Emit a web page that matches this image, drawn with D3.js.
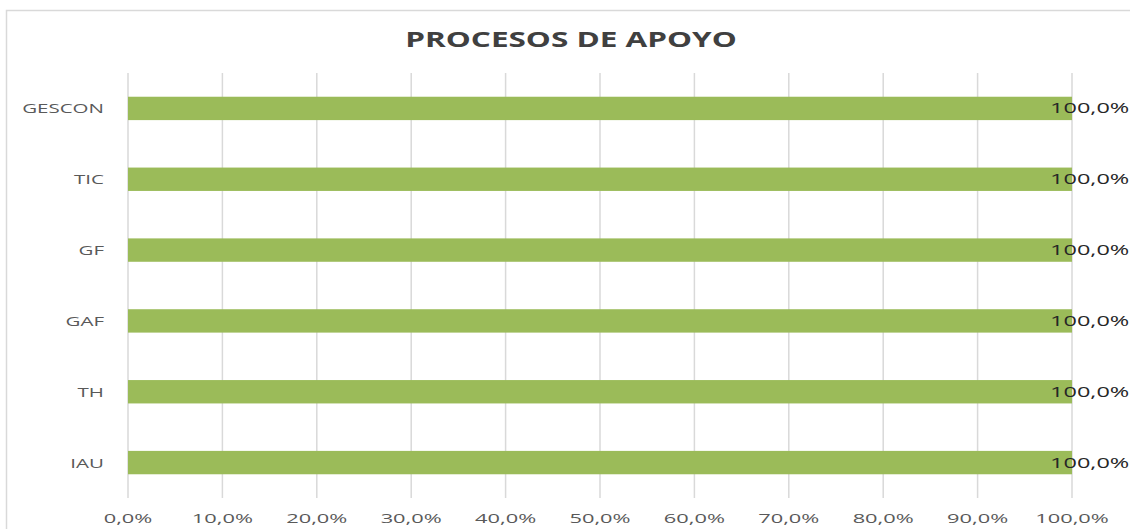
<!DOCTYPE html>
<html>
<head>
<meta charset="utf-8">
<script src="https://cdn.jsdelivr.net/npm/d3@7"></script>
<style>
  body { margin: 0; background: #fff; }
</style>
</head>
<body>
<svg id="chart"></svg>
<script>
var categories = ["GESCON", "TIC", "GF", "GAF", "TH", "IAU"];
var values = [1.0, 1.0, 1.0, 1.0, 1.0, 1.0];
var tickValues = [0, 0.1, 0.2, 0.3, 0.4, 0.5, 0.6, 0.7, 0.8, 0.9, 1.0];

var width = 1130, height = 529;
var margin = {top: 73, right: 58, bottom: 31, left: 128};

var svg = d3.select("#chart")
    .attr("width", width)
    .attr("height", height);

// the original picture is stretched sideways, so widen the text the same way
function stretch(sel, k) {
    sel.each(function () {
        var t = d3.select(this);
        var x = +t.attr("x"), y = +t.attr("y");
        t.attr("x", 0).attr("y", 0)
            .attr("transform", "translate(" + x + "," + y + ") scale(" + k + ",1)");
    });
}

// chart frame
svg.append("path")
    .attr("d", "M6.5," + height + "V10.5H" + width)
    .attr("fill", "none")
    .attr("stroke", "#d9d9d9")
    .attr("stroke-width", 1.5);

var fmt = function (d) { return d3.format(".1f")(d * 100).replace(".", ",") + "%"; };

var xScale = d3.scaleLinear()
    .domain([0, 1])
    .range([margin.left, width - margin.right]);

var yScale = d3.scaleBand()
    .domain(categories)
    .range([margin.top, height - margin.bottom])
    .paddingInner(0.67)
    .paddingOuter(0.335);

// gridlines
svg.append("g")
    .selectAll("line")
    .data(tickValues)
    .enter().append("line")
    .attr("x1", function (d) { return xScale(d); })
    .attr("x2", function (d) { return xScale(d); })
    .attr("y1", margin.top)
    .attr("y2", height - margin.bottom)
    .attr("stroke", "#d9d9d9")
    .attr("stroke-width", 1.5);

// x tick labels
svg.append("g")
    .selectAll("text")
    .data(tickValues)
    .enter().append("text")
    .attr("x", function (d) { return xScale(d); })
    .attr("y", 523)
    .attr("text-anchor", "middle")
    .attr("font-family", "'Open Sans', sans-serif")
    .attr("font-size", "13px")
    .attr("fill", "#595959")
    .text(fmt)
    .call(stretch, 1.68);

// y category labels
svg.append("g")
    .selectAll("text")
    .data(categories)
    .enter().append("text")
    .attr("x", 104)
    .attr("y", function (d) { return yScale(d) + yScale.bandwidth() / 2 + 5; })
    .attr("text-anchor", "end")
    .attr("font-family", "'Open Sans', sans-serif")
    .attr("font-size", "13.5px")
    .attr("fill", "#595959")
    .text(function (d) { return d; })
    .call(stretch, 1.52);

// bars
svg.selectAll(".bar")
    .data(values)
    .enter().append("rect")
    .attr("class", "bar")
    .attr("x", xScale(0))
    .attr("y", function (d, i) { return yScale(categories[i]); })
    .attr("width", function (d) { return xScale(d) - xScale(0); })
    .attr("height", yScale.bandwidth())
    .attr("fill", "#9bbb59");

// data labels
svg.append("g")
    .selectAll("text")
    .data(values)
    .enter().append("text")
    .attr("x", function (d) { return xScale(d) - 22; })
    .attr("y", function (d, i) { return yScale(categories[i]) + yScale.bandwidth() / 2 + 5; })
    .attr("font-family", "'Open Sans', sans-serif")
    .attr("font-size", "14px")
    .attr("fill", "#262626")
    .text(fmt)
    .call(stretch, 1.68);

// title
svg.append("text")
    .attr("x", 571)
    .attr("y", 47)
    .attr("text-anchor", "middle")
    .attr("font-family", "'Open Sans', sans-serif")
    .attr("font-weight", "bold")
    .attr("font-size", "21px")
    .attr("fill", "#404040")
    .text("PROCESOS DE APOYO")
    .call(stretch, 1.5);
</script>
</body>
</html>
